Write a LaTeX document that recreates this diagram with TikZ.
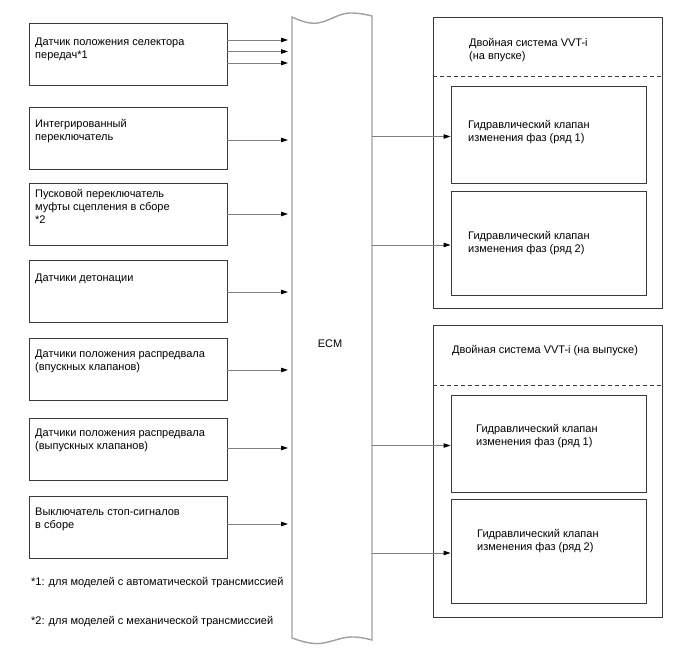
\documentclass[tikz,border=0pt]{standalone}
\usepackage{fontspec}
\setmainfont{Liberation Sans}
\usetikzlibrary{arrows.meta}
\definecolor{boxc}{HTML}{3A3A3A}
\definecolor{arrc}{HTML}{808080}
\definecolor{ecmc}{HTML}{A0A0A0}
\begin{document}
\begin{tikzpicture}[x=1pt,y=-1pt,
  lbox/.style={draw=boxc, line width=0.9pt, fill=white, inner sep=0pt, minimum width=198pt, minimum height=62pt},
  obox/.style={draw=boxc, line width=0.9pt, inner sep=0pt, minimum width=229pt},
  vbox/.style={draw=boxc, line width=0.9pt, fill=white, inner sep=0pt, minimum width=195pt},
  txt/.style={anchor=north west, inner sep=0pt, align=left, font=\fontsize{11}{13}\selectfont},
  arr/.style={draw=arrc, line width=0.9pt, -{Triangle[length=7pt,width=4.5pt,fill=black,color=black]}},
  dashln/.style={draw=boxc, line width=0.9pt, dash pattern=on 4pt off 3pt}]
\useasboundingbox (0,0) rectangle (688,658);
% ECM body
\draw[draw=ecmc, line width=1.4pt, fill=white]
  (292,17) .. controls (303,22) and (310,24) .. (318,23)
  .. controls (330,21) and (340,12) .. (353,13)
  .. controls (362,13.5) and (368,15) .. (372,16)
  -- (372,640)
  .. controls (368,639) and (363,637.5) .. (355,637)
  .. controls (343,636) and (333,642) .. (320,643.5)
  .. controls (312,644) and (303,642) .. (292,638) -- cycle;
\coordinate (ecmL) at (292,300);
\coordinate (ecmR) at (372,300);
\node[txt, anchor=center] (ecm) at (330,344) {ECM};
% left boxes
\node[lbox] (s1) at (128,54.5) {};
\node[lbox] (s2) at (128,138.5) {};
\node[lbox] (s3) at (128,214) {};
\node[lbox] (s4) at (128,291) {};
\node[lbox] (s5) at (128,369.5) {};
\node[lbox] (s6) at (128,449) {};
\node[lbox] (s7) at (128,527) {};
\node[txt] (s1t) at (35,37.5) {Датчик положения селектора\\передач*1};
\node[txt] (s2t) at (35,119.5) {Интегрированный\\переключатель};
\node[txt] (s3t) at (35,189.5) {Пусковой переключатель\\муфты сцепления в сборе\\*2};
\node[txt] (s4t) at (35,273.5) {Датчики детонации};
\node[txt] (s5t) at (35,349.5) {Датчики положения распредвала\\(впускных клапанов)};
\node[txt] (s6t) at (35,428.5) {Датчики положения распредвала\\(выпускных клапанов)};
\node[txt] (s7t) at (35,507.5) {Выключатель стоп-сигналов\\в сборе};
% arrows into ECM
\foreach \s/\d in {s1/14.5pt, s1/3pt, s1/-8.5pt, s2/-1.5pt, s3/0pt, s4/-1pt, s5/-0.5pt, s6/1pt, s7/3pt}
  \draw[arr, shorten >=4pt] ([yshift=\d]\s.east) -- ([yshift=\d]\s.east -| ecmL);
% right outer boxes
\node[obox] (o1) at (547.5,162.5) [minimum height=291pt] {};
\node[obox] (o2) at (547.5,471) [minimum height=292pt] {};
\coordinate (d1) at (433,76);
\coordinate (d2) at (433,385);
\draw[dashln] (d1) -- (d1 -| o1.east);
\draw[dashln] (d2) -- (d2 -| o2.east);
\node[txt] (o1t) at (469,38.5) {Двойная система VVT-i\\(на впуске)};
\node[txt] (o2t) at (452,345.5) {Двойная система VVT-i (на выпуске)};
% inner boxes
\node[vbox, minimum height=97pt] (v1) at (548.5,134.5) {};
\node[vbox, minimum height=104pt] (v2) at (548.5,243) {};
\node[vbox, minimum height=97pt] (v3) at (548.5,443.5) {};
\node[vbox, minimum height=104pt] (v4) at (548.5,551) {};
\node[txt] (v1t) at (468,120.5) {Гидравлический клапан\\изменения фаз (ряд 1)};
\node[txt] (v2t) at (468,231.5) {Гидравлический клапан\\изменения фаз (ряд 2)};
\node[txt] (v3t) at (476,424.5) {Гидравлический клапан\\изменения фаз (ряд 1)};
\node[txt] (v4t) at (477,529.5) {Гидравлический клапан\\изменения фаз (ряд 2)};
% arrows out of ECM
\foreach \v in {v1,v2,v3,v4}
  \draw[arr] ([yshift=-2pt]\v.west -| ecmR) -- ([yshift=-2pt]\v.west);
% footnotes
\node[txt] (f1) at (31,577.5) {*1: для моделей с автоматической трансмиссией};
\node[txt] (f2) at (31,616.5) {*2: для моделей с механической трансмиссией};
\end{tikzpicture}
\end{document}
